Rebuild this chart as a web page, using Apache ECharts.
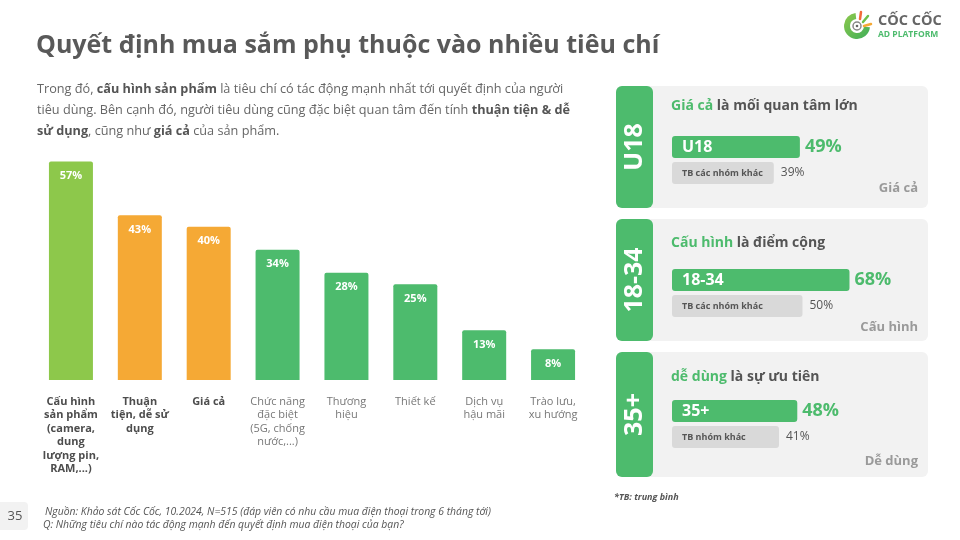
<!DOCTYPE html>
<html>
<head>
<meta charset="utf-8">
<script src="https://cdn.jsdelivr.net/npm/echarts@6/dist/echarts.min.js"></script>
<style>
html,body{margin:0;padding:0;background:#fff;}
#c{width:960px;height:540px;}
</style>
</head>
<body>
<div id="c"></div>
<script>
// ---- Data ----
const categories = [
  'Cấu hình\nsản phẩm\n(camera,\ndung\nlượng pin,\nRAM,...)',
  'Thuận\ntiện, dễ sử\ndụng',
  'Giá cả',
  'Chức năng\nđặc biệt\n(5G, chống\nnước,...)',
  'Thương\nhiệu',
  'Thiết kế',
  'Dịch vụ\nhậu mãi',
  'Trào lưu,\nxu hướng'
];
const values = [57, 43, 40, 34, 28, 25, 13, 8];
const boldCategoryCount = 3;

const panelGroups = ['U18', '18-34', '35+'];
const panelHeadKey = ['Giá cả', 'Cấu hình', 'dễ dùng'];
const panelHeadRest = [' là mối quan tâm lớn', ' là điểm cộng', ' là sự ưu tiên'];
const panelGroupValues = [49, 68, 48];
const panelOtherLabels = ['TB các nhóm khác', 'TB các nhóm khác', 'TB nhóm khác'];
const panelOtherValues = [39, 50, 41];
const panelCriterion = ['Giá cả', 'Cấu hình', 'Dễ dùng'];

const titleText = 'Quyết định mua sắm phụ thuộc vào nhiều tiêu chí';
const introLines = [
  'Trong đó, {b|cấu hình sản phẩm} là tiêu chí có tác động mạnh nhất tới quyết định của người',
  'tiêu dùng. Bên cạnh đó, người tiêu dùng cũng đặc biệt quan tâm đến tính {b|thuận tiện & dễ}',
  '{b|sử dụng}, cũng như {b|giá cả} của sản phẩm.'
];
const sourceLines = [
  'Nguồn: Khảo sát Cốc Cốc, 10.2024, N=515 (đáp viên có nhu cầu mua điện thoại trong 6 tháng tới)',
  'Q: Những tiêu chí nào tác động mạnh đến quyết định mua điện thoại của bạn?'
];
const footNote = '*TB: trung bình';
const pageNumber = '35';

// ---- Styles ----
const FONT = '"Open Sans", "Noto Sans", sans-serif';
const GREEN = '#4DBB6D';
const LIGHT_GREEN = '#8DC84B';
const ORANGE = '#F5A935';
const barColors = [LIGHT_GREEN, ORANGE, ORANGE, GREEN, GREEN, GREEN, GREEN, GREEN];

const chart = echarts.init(document.getElementById('c'), null, {renderer: 'canvas'});

const grids = [{left: 36.5, top: 150, width: 551, height: 230}];
const xAxes = [{
  type: 'category', gridIndex: 0, data: categories,
  axisLine: {show: false}, axisTick: {show: false},
  axisLabel: {
    interval: 0, margin: 15, verticalAlign: 'top',
    formatter: function (v, i) {
      const tag = i < boldCategoryCount ? 'b' : 'n';
      return v.split('\n').map(s => '{' + tag + '|' + s + '}').join('\n');
    },
    rich: {
      b: {fontFamily: FONT, fontSize: 11, fontWeight: 'bold', color: '#4D4D4D', lineHeight: 13.5, align: 'center'},
      n: {fontFamily: FONT, fontSize: 11, color: '#777777', lineHeight: 13.5, align: 'center'}
    }
  }
}];
const yAxes = [{type: 'value', gridIndex: 0, min: 0, max: 60, show: false}];
const series = [{
  type: 'bar', xAxisIndex: 0, yAxisIndex: 0, barWidth: 44,
  data: values.map((v, i) => ({value: v, itemStyle: {color: barColors[i], borderRadius: [2, 2, 0, 0]}})),
  label: {
    show: true, position: 'insideTop', distance: 9,
    formatter: '{c}%', color: '#fff', fontFamily: FONT, fontWeight: 'bold', fontSize: 11
  },
  silent: true
}];

const graphic = [];
// Title
graphic.push({type: 'text', x: 36, y: 46, style: {text: titleText, fontFamily: FONT, fontWeight: 'bold', fontSize: 25, fill: '#595959', textVerticalAlign: 'middle'}});
// Intro
introLines.forEach((l, i) => {
  graphic.push({type: 'text', x: 37, y: 89 + i * 21, style: {
    text: l, fontFamily: FONT, fontSize: 12.7, fill: '#666', textVerticalAlign: 'middle',
    rich: {b: {fontFamily: FONT, fontSize: 12.7, fontWeight: 'bold', fill: '#555', color: '#555'}}
  }});
});

// Panels
const cardTops = [86, 219, 352];
const cardHeights = [122, 122, 125];
cardTops.forEach((top, k) => {
  const h = cardHeights[k];
  graphic.push({type: 'rect', shape: {x: 616, y: top, width: 312, height: h, r: 6}, style: {fill: '#F2F2F2'}, z: -10});
  graphic.push({type: 'rect', shape: {x: 616, y: top, width: 37, height: h, r: 6}, style: {fill: GREEN}, z: -9});
  graphic.push({type: 'text', x: 635, y: top + h / 2, rotation: Math.PI / 2, style: {
    text: panelGroups[k], fontFamily: FONT, fontWeight: 'bold', fontSize: 25, fill: '#fff',
    textAlign: 'center', textVerticalAlign: 'middle'}});
  graphic.push({type: 'text', x: 671, y: top + 20 + (k === 2 ? 5 : (k === 1 ? 4 : 0)), style: {
    text: '{g|' + panelHeadKey[k] + '}' + panelHeadRest[k], fontFamily: FONT, fontWeight: 'bold', fontSize: 14, fill: '#555',
    textVerticalAlign: 'middle',
    rich: {g: {fontFamily: FONT, fontWeight: 'bold', fontSize: 14, fill: GREEN, color: GREEN}}}});
  graphic.push({type: 'text', x: 918, y: top + 102 + (k === 2 ? 7 : (k === 1 ? 6 : 0)), style: {
    text: panelCriterion[k], fontFamily: FONT, fontWeight: 'bold', fontSize: 13, fill: '#9A9A9A',
    textAlign: 'right', textVerticalAlign: 'middle'}});

  const gi = k + 1;
  grids.push({left: 672, top: [134, 267, 398][k], width: 261, height: 52});
  xAxes.push({type: 'value', gridIndex: gi, min: 0, max: 100, show: false});
  yAxes.push({type: 'category', gridIndex: gi, inverse: true, data: [panelGroups[k], panelOtherLabels[k]], show: false});
  const d = [
    {value: panelGroupValues[k], itemStyle: {color: GREEN, borderRadius: 3}},
    {value: panelOtherValues[k], itemStyle: {color: '#D9D9D9', borderRadius: 3}}
  ];
  series.push({
    type: 'bar', xAxisIndex: gi, yAxisIndex: gi, barWidth: 22, data: d, silent: true,
    label: {show: true, position: 'insideLeft', distance: 10,
      formatter: p => p.dataIndex === 0 ? '{m|' + p.name + '}' : '{o|' + p.name + '}',
      rich: {
        m: {fontFamily: FONT, fontWeight: 'bold', fontSize: 16, color: '#fff'},
        o: {fontFamily: FONT, fontWeight: 'bold', fontSize: 9, color: '#555'}
      }}
  });
  series.push({
    type: 'bar', xAxisIndex: gi, yAxisIndex: gi, barWidth: 22, barGap: '-100%', silent: true,
    data: [panelGroupValues[k], panelOtherValues[k]],
    itemStyle: {color: 'rgba(0,0,0,0)'},
    label: {show: true, position: 'right', distance: 5,
      formatter: p => p.dataIndex === 0 ? '{m|' + p.value + '%}' : '{o|' + p.value + '%}',
      rich: {
        m: {fontFamily: FONT, fontWeight: 'bold', fontSize: 18, color: GREEN},
        o: {fontFamily: FONT, fontSize: 12, color: '#555', padding: [0, 0, 0, 2]}
      }}
  });
});

// Footnote
graphic.push({type: 'text', x: 614, y: 497, style: {text: footNote, fontFamily: FONT, fontStyle: 'italic', fontWeight: 'bold', fontSize: 9, fill: '#555', textVerticalAlign: 'middle'}});
// Source
sourceLines.forEach((l, i) => {
  graphic.push({type: 'text', x: 45 - i * 2, y: 512 + i * 13.5, style: {text: l, fontFamily: FONT, fontStyle: 'italic', fontSize: 10.4, fill: '#555', textVerticalAlign: 'middle'}});
});
// Page number
graphic.push({type: 'rect', shape: {x: -4, y: 502, width: 32, height: 28, r: 4}, style: {fill: '#F2F2F2'}});
graphic.push({type: 'text', x: 15, y: 516, style: {text: pageNumber, fontFamily: FONT, fontSize: 13, fill: '#555', textAlign: 'center', textVerticalAlign: 'middle'}});

// Logo
graphic.push({type: 'arc', shape: {cx: 857, cy: 26, r: 10, startAngle: 0.1, endAngle: 4.6, clockwise: true},
  style: {stroke: new echarts.graphic.LinearGradient(0, 0, 1, 1, [{offset: 0, color: '#8DC84B'}, {offset: 1, color: '#3FAE5A'}]), lineWidth: 6, fill: null}});
graphic.push({type: 'circle', shape: {cx: 857, cy: 26, r: 4}, style: {fill: '#fff', stroke: '#888', lineWidth: 1.5}});
graphic.push({type: 'circle', shape: {cx: 857, cy: 26, r: 1.3}, style: {fill: '#666'}});
graphic.push({type: 'line', shape: {x1: 860, y1: 19, x2: 861, y2: 12}, style: {stroke: '#F26B3A', lineWidth: 2.5, lineCap: 'round'}});
graphic.push({type: 'line', shape: {x1: 863, y1: 22, x2: 868, y2: 16}, style: {stroke: '#6CC04A', lineWidth: 2.5, lineCap: 'round'}});
graphic.push({type: 'line', shape: {x1: 864, y1: 26, x2: 871, y2: 24}, style: {stroke: '#F5A935', lineWidth: 2.5, lineCap: 'round'}});
graphic.push({type: 'text', x: 878, y: 21, style: {text: 'CỐC CỐC', fontFamily: FONT, fontWeight: 'bold', fontSize: 14.5, fill: '#666', textVerticalAlign: 'middle'}});
graphic.push({type: 'text', x: 878, y: 35, style: {text: 'AD PLATFORM', fontFamily: FONT, fontWeight: 'bold', fontSize: 8.5, fill: GREEN, textVerticalAlign: 'middle'}});

chart.setOption({
  animation: false,
  grid: grids, xAxis: xAxes, yAxis: yAxes, series: series, graphic: graphic
});
</script>
</body>
</html>
